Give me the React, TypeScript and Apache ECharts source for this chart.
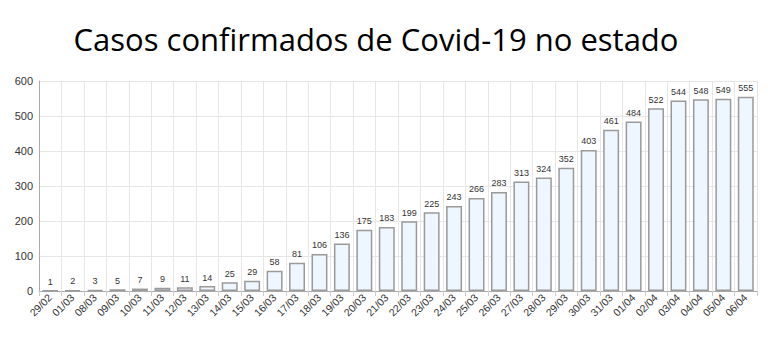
import React, { useEffect, useRef } from "react";
import * as echarts from "echarts";

const categories = ["29/02","01/03","08/03","09/03","10/03","11/03","12/03","13/03","14/03","15/03","16/03","17/03","18/03","19/03","20/03","21/03","22/03","23/03","24/03","25/03","26/03","27/03","28/03","29/03","30/03","31/03","01/04","02/04","03/04","04/04","05/04","06/04"];
const casos = [1,2,3,5,7,9,11,14,25,29,58,81,106,136,175,183,199,225,243,266,283,313,324,352,403,461,484,522,544,548,549,555];
const titleText = "Casos confirmados de Covid-19 no estado";

export default function App() {
  const ref = useRef<HTMLDivElement>(null);
  useEffect(() => {
    if (!ref.current) return;
    const chart = echarts.init(ref.current, null, { renderer: "svg" });
    chart.setOption({
      animation: false,
      backgroundColor: "#ffffff",
      title: {
        text: titleText,
        left: 371,
        textAlign: "center",
        top: 18,
        textStyle: { fontFamily: "Open Sans", fontSize: 31, fontWeight: "normal", color: "#000" },
      },
      grid: { left: 39, right: 11, top: 81, bottom: 60 },
      xAxis: {
        type: "category",
        data: categories,
        axisLine: { lineStyle: { color: "#aaaaaa" } },
        axisTick: { show: true, length: 5, lineStyle: { color: "#cccccc" } },
        splitLine: { show: true, lineStyle: { color: "#e6e6e6" } },
        axisLabel: {
          rotate: 45,
          interval: 0,
          fontFamily: "Liberation Sans",
          fontSize: 10.5,
          color: "#333",
          margin: 5,
        },
      },
      yAxis: {
        type: "value",
        min: 0,
        max: 600,
        interval: 100,
        axisLine: { show: true, lineStyle: { color: "#aaaaaa" } },
        axisTick: { show: false },
        splitLine: { lineStyle: { color: "#e6e6e6" } },
        axisLabel: { fontFamily: "Liberation Sans", fontSize: 11, color: "#333", margin: 6 },
      },
      series: [
        {
          type: "bar",
          data: casos,
          barWidth: "71%",
          itemStyle: { color: "#eef6ff", borderColor: "#9a9a9a", borderWidth: 1.5 },
          label: {
            show: true,
            position: "top",
            distance: 4,
            fontFamily: "Liberation Sans",
            fontSize: 9,
            color: "#333",
          },
        },
      ],
    });
    return () => chart.dispose();
  }, []);
  return <div ref={ref} style={{ width: 768, height: 351, position: "absolute", left: 0, top: 0 }} />;
}
